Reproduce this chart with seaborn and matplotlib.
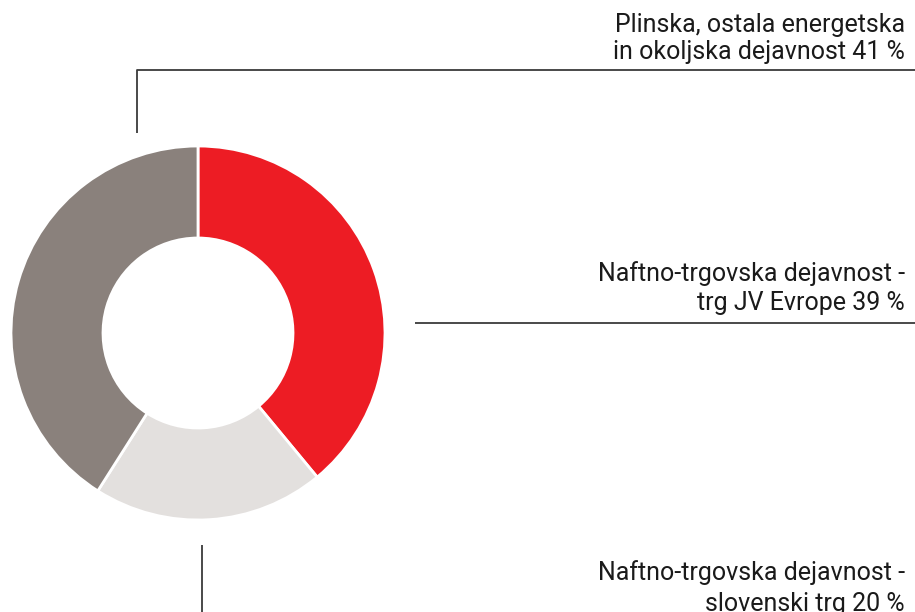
import seaborn as sns
import matplotlib.pyplot as plt

# deleži dejavnosti (%)
kategorije = ["Naftno-trgovska dejavnost -\ntrg JV Evrope",
              "Naftno-trgovska dejavnost -\nslovenski trg",
              "Plinska, ostala energetska\nin okoljska dejavnost"]
delezi = [39, 20, 41]
barve = ["#ED1C24", "#E3E0DE", "#8A817C"]

sns.set_theme(style="white")
plt.rcParams['font.family'] = ['Roboto', 'DejaVu Sans']

fig = plt.figure(figsize=(9.15, 6.12), dpi=100)
ax = fig.add_axes([0, 0, 1, 1])

H = 612
ax.pie(delezi, colors=barve, startangle=90, counterclock=False,
       center=(198, H - 333), radius=187,
       wedgeprops=dict(width=92, edgecolor="white", linewidth=2))
ax.set_xlim(0, 915)
ax.set_ylim(0, H)
ax.set_aspect('equal')
ax.axis('off')

crta = dict(color="#3a3a3a", lw=1.3, solid_capstyle="butt")
# povezovalne črte
ax.plot([137, 137, 915], [H - 133, H - 70, H - 70], **crta)
ax.plot([415, 915], [H - 323, H - 323], **crta)
ax.plot([202, 202], [H - 545, 0], **crta)

# oznake
pozicije = {0: (281, 310), 1: (580, 611), 2: (32, 59)}
for i, (ime, d) in enumerate(zip(kategorije, delezi)):
    vrstice = ime.split("\n")
    vrstice[-1] = vrstice[-1] + f" {d} %"
    for vr, y in zip(vrstice, pozicije[i]):
        ax.text(905, H - y, vr, ha="right", va="baseline",
                fontsize=18, color="#1a1a1a")

fig.savefig("out.png", dpi=100)
